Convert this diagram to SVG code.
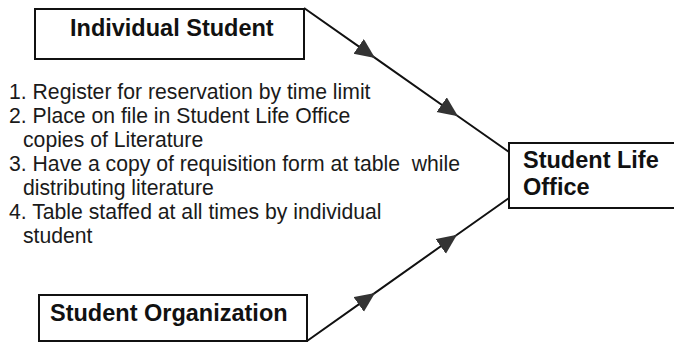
<svg xmlns="http://www.w3.org/2000/svg" width="674" height="344" viewBox="0 0 674 344">
<style>
.box{fill:#fff;stroke:#111;stroke-width:2}
.bt{font-family:"Liberation Sans",Arial,sans-serif;font-weight:bold;font-size:23.5px;fill:#111}
.lt{font-family:"Liberation Sans",Arial,sans-serif;font-size:21.2px;fill:#1a1a1a;white-space:pre}
.conn{fill:none;stroke:#111;stroke-width:2;marker-mid:url(#ah)}
</style>
<defs>
<marker id="ah" markerUnits="userSpaceOnUse" markerWidth="22" markerHeight="20" refX="20" refY="9" orient="auto">
<path d="M0,0 L20,9 L0,18 Z" fill="#333"/>
</marker>
</defs>
<rect width="674" height="344" fill="#fff"/>
<g id="connectors">
<polyline class="conn" points="304,8 375,57.9 458,116.2 509,152"/>
<polyline class="conn" points="307,341 375,292.9 457,234.8 509,198"/>
</g>
<g id="individual-student">
<rect class="box" x="35" y="9" width="269" height="50"/>
<text class="bt" x="70" y="36">Individual Student</text>
</g>
<g id="student-organization">
<rect class="box" x="39" y="295" width="268" height="46"/>
<text class="bt" x="50" y="321">Student Organization</text>
</g>
<g id="student-life-office">
<rect class="box" x="509" y="143" width="180" height="65"/>
<text class="bt" x="523" y="168">Student Life</text>
<text class="bt" x="523" y="195">Office</text>
</g>
<g id="requirements">
<text class="lt" x="9" y="99">1. Register for reservation by time limit</text>
<text class="lt" x="9" y="123">2. Place on file in Student Life Office</text>
<text class="lt" x="23" y="147">copies of Literature</text>
<text class="lt" x="9" y="171">3. Have a copy of requisition form at table  while</text>
<text class="lt" x="23" y="195">distributing literature</text>
<text class="lt" x="9" y="219">4. Table staffed at all times by individual</text>
<text class="lt" x="23" y="243">student</text>
</g>
</svg>
